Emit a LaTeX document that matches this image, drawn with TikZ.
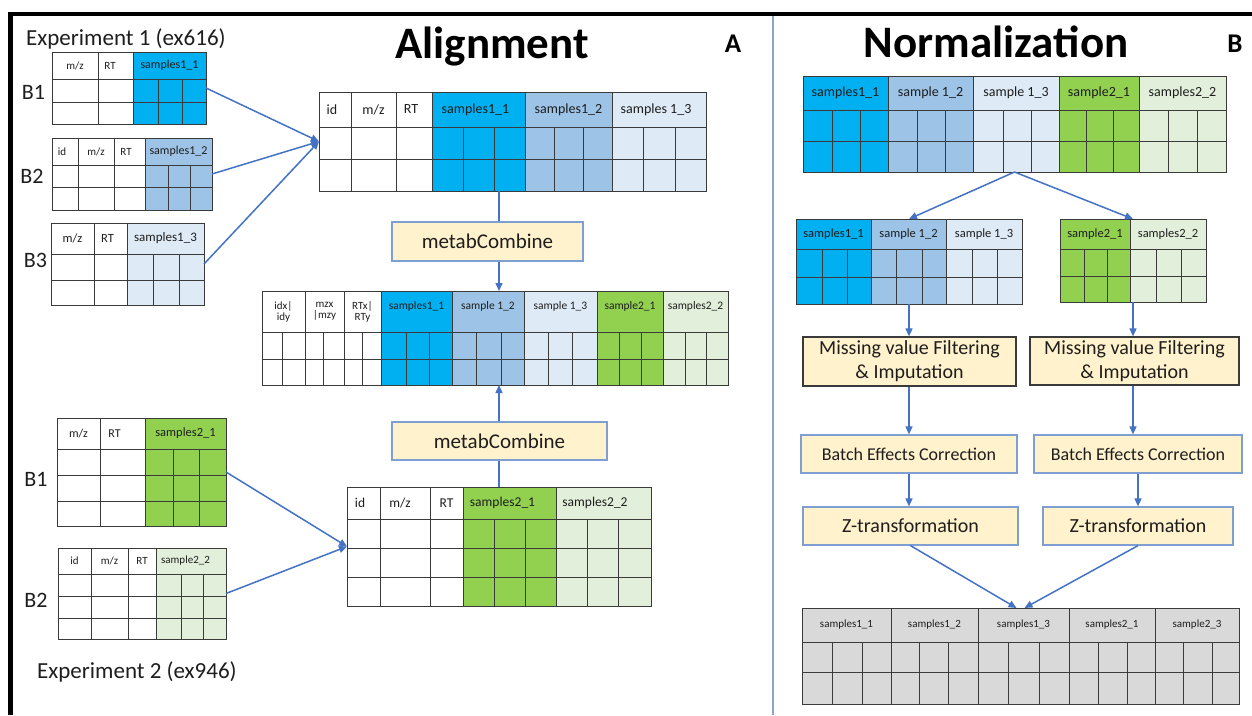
\documentclass[tikz,border=0pt]{standalone}
\usepackage{fontspec}
\setmainfont{Carlito}
\usetikzlibrary{arrows.meta,fit,calc}

\definecolor{sOneA}{HTML}{00B0F0}
\definecolor{sOneB}{HTML}{9DC3E6}
\definecolor{sOneC}{HTML}{DEEBF7}
\definecolor{sTwoA}{HTML}{92D050}
\definecolor{sTwoB}{HTML}{E2EFDA}
\definecolor{allgray}{HTML}{D9D9D9}
\definecolor{boxfill}{HTML}{FFF2CC}
\definecolor{boxline}{HTML}{7F9FD3}
\definecolor{flow}{HTML}{4472C4}
\definecolor{gridc}{HTML}{3A3A3A}
\definecolor{txt}{HTML}{1E1E1E}
\definecolor{divc}{HTML}{8FA3C9}

\newcounter{hlc}
\newcommand\fs[1]{\fontsize{#1}{#1}\selectfont}

% fill of one sample block: x0, top, x1, bottom, colour
\newcommand\fl[5]{\fill[#5] (#1,#2) rectangle (#3,#4);}

% table grid: name, left, top, right, bottom, header bottom,
% row lines, full-height column lines, data-only column lines
\newcommand\tbl[9]{%
  \node[fit={(#2,#3) (#4,#5)}, inner sep=0pt, outer sep=0pt] (#1) {};
  \foreach \ry in {#7} \draw[grid] (#2,\ry) -- (#4,\ry);
  \draw[grid] (#2,#6) -- (#4,#6);
  \foreach \vx in {#8} \draw[grid] (\vx,#3) -- (\vx,#5);
  \foreach \vx in {#9} \draw[grid] (\vx,#6) -- (\vx,#5);
  \draw[grid] (#2,#3) rectangle (#4,#5);
}

% header label centred in a box: x0, x1, y0, y1, size, text
\newcommand\hl[6]{%
  \stepcounter{hlc}%
  \node[hdr, font={\fs{#5}}] (hl\arabic{hlc}) at ({(#1+#2)/2},{(#3+#4)/2}) {#6};
}

\begin{document}
\begin{tikzpicture}[x=1pt,y=-1pt,
  grid/.style={draw=gridc, line width=0.9pt},
  hdr/.style={inner sep=0pt, align=center, text=txt},
  procbox/.style={draw=boxline, fill=boxfill, line width=1.2pt, inner sep=0pt, text=txt, align=center},
  darkbox/.style={procbox, draw=gridc},
  conn/.style={draw=flow, line width=1.5pt, -{Triangle[length=8pt,width=7pt]}},
  plainline/.style={draw=flow, line width=1.5pt},
  batchlabel/.style={font={\fs{22}}, text=txt, inner sep=0pt}]

\fill[white] (0,0) rectangle (1252,715);
\useasboundingbox (0,0) rectangle (1252,715);

% outer frame and panel divider
\draw[line width=4pt, black] (8,14) -- (1252,14);
\draw[line width=4.5pt, black] (10.5,12) -- (10.5,715);
\draw[divc, line width=1.8pt] (773,16) -- (773,715);

% titles
\node[anchor=base, font={\fs{45}\bfseries}, inner sep=0pt] (ttlA) at (492,58) {Alignment};
\node[anchor=base, font={\fs{45}\bfseries}, inner sep=0pt] (ttlB) at (996,57) {Normalization};
\node[font={\fs{27}\bfseries}, inner sep=0pt] (lblA) at (733,44) {A};
\node[font={\fs{27}\bfseries}, inner sep=0pt] (lblB) at (1235,44) {B};

\node[anchor=base west, font={\fs{23}}, inner sep=0pt, text=txt] (exp1) at (26,45) {Experiment 1 (ex616)};
\node[anchor=base west, font={\fs{23}}, inner sep=0pt, text=txt] (exp2) at (37,678) {Experiment 2 (ex946)};

% batch labels
\node[batchlabel] (b11) at (33.5,92) {B1};
\node[batchlabel] (b12) at (32,176.5) {B2};
\node[batchlabel] (b13) at (35.5,260) {B3};
\node[batchlabel] (b21) at (36,479) {B1};
\node[batchlabel] (b22) at (36,600) {B2};

% ---------- experiment 1, batch tables ----------
\fl{133}{52}{206}{124}{sOneA}
\tbl{e1b1}{52}{52}{206}{124}{79}{102}{98,133}{158,182}
\hl{52}{98}{52}{79}{11}{m/z}
\hl{98}{122}{52}{79}{11}{RT}
\hl{133}{206}{52}{79}{12}{samples1\_1}

\fl{145}{138}{212}{210}{sOneB}
\tbl{e1b2}{52}{138}{212}{210}{165}{187}{78,114,145}{168,190}
\hl{52}{72}{138}{165}{11}{id}
\hl{78}{114}{138}{165}{11}{m/z}
\hl{114}{138}{138}{165}{11}{RT}
\hl{145}{212}{138}{165}{12}{samples1\_2}

\fl{127}{223}{204}{305}{sOneC}
\tbl{e1b3}{51}{223}{204}{305}{254}{280}{94,127}{153,179}
\hl{51}{94}{223}{254}{12.5}{m/z}
\hl{94}{121}{223}{254}{12.5}{RT}
\hl{127}{204}{223}{254}{13}{samples1\_3}

% ---------- aligned experiment 1 ----------
\fl{432}{92}{525}{191}{sOneA}
\fl{525}{92}{612}{191}{sOneB}
\fl{612}{92}{706}{191}{sOneC}
\tbl{mainA}{319}{92}{706}{191}{127}{159}{351,396,432,525,612}{463,494,554,583,643,675}
\hl{319}{345}{92}{127}{14}{id}
\hl{351}{396}{92}{127}{14}{m/z}
\hl{396}{426}{92}{127}{14}{RT}
\hl{432}{519}{92}{127}{14}{samples1\_1}
\hl{525}{612}{92}{127}{14}{samples1\_2}
\hl{612}{700}{92}{127}{14}{samples 1\_3}

% ---------- combined table ----------
\fl{381}{291}{452}{385}{sOneA}
\fl{452}{291}{524}{385}{sOneB}
\fl{524}{291}{597}{385}{sOneC}
\fl{597}{291}{663}{385}{sTwoA}
\fl{663}{291}{728}{385}{sTwoB}
\tbl{mid}{262}{291}{728}{385}{332}{359}{305,344,381,452,524,597,663}{282,323,362,406,429,476,501,548,572,619,641,685,706}
\hl{262}{305}{291}{332}{11}{idx|\\idy}
\hl{305}{344}{291}{332}{11}{mzx\\|mzy}
\hl{344}{381}{291}{332}{11}{RTx|\\RTy}
\hl{381}{452}{291}{321}{11.5}{samples1\_1}
\hl{452}{524}{291}{321}{11.5}{sample 1\_2}
\hl{524}{597}{291}{321}{11.5}{sample 1\_3}
\hl{597}{663}{291}{321}{11.5}{sample2\_1}
\hl{663}{728}{291}{321}{11.5}{samples2\_2}

% ---------- experiment 2, batch tables ----------
\fl{145}{418}{226}{526}{sTwoA}
\tbl{e2b1}{57}{418}{226}{526}{449}{475,501}{100,145}{173,199}
\hl{57}{100}{418}{449}{12}{m/z}
\hl{100}{129}{418}{449}{12}{RT}
\hl{145}{226}{418}{449}{12.5}{samples2\_1}

\fl{156}{548}{226}{639}{sTwoB}
\tbl{e2b2}{58}{548}{226}{639}{574}{596,618}{91,128,156}{181,203}
\hl{58}{91}{548}{574}{11}{id}
\hl{91}{128}{548}{574}{11}{m/z}
\hl{128}{156}{548}{574}{11}{RT}
\hl{156}{215}{548}{574}{11}{sample2\_2}

% ---------- aligned experiment 2 ----------
\fl{463}{487}{556}{606}{sTwoA}
\fl{556}{487}{651}{606}{sTwoB}
\tbl{botA}{347}{487}{651}{606}{519}{548,577}{380,430,463,556}{494,525,587,618}
\hl{347}{373}{487}{519}{13.5}{id}
\hl{380}{420}{487}{519}{13.5}{m/z}
\hl{430}{463}{487}{519}{13.5}{RT}
\hl{463}{542}{487}{519}{13.5}{samples2\_1}
\hl{556}{634}{487}{519}{13.5}{samples2\_2}

% ---------- process boxes, alignment ----------
\node[procbox, minimum width=191pt, minimum height=39pt, font={\fs{21}}] (mb1) at (487.5,241.5) {metabCombine};
\node[procbox, minimum width=215pt, minimum height=38pt, font={\fs{21}}] (mb2) at (499.5,441) {metabCombine};

% ---------- normalization tables ----------
\fl{803}{76}{888}{172}{sOneA}
\fl{888}{76}{973}{172}{sOneB}
\fl{973}{76}{1059}{172}{sOneC}
\fl{1059}{76}{1139}{172}{sTwoA}
\fl{1139}{76}{1226}{172}{sTwoB}
\tbl{normT}{803}{76}{1226}{172}{110}{141}{888,973,1059,1139}{832,860,917,945,1003,1031,1086,1113,1168,1197}
\hl{803}{888}{76}{110}{14}{samples1\_1}
\hl{888}{973}{76}{110}{14}{sample 1\_2}
\hl{973}{1059}{76}{110}{14}{sample 1\_3}
\hl{1059}{1139}{76}{110}{14}{sample2\_1}
\hl{1139}{1226}{76}{110}{14}{samples2\_2}

\fl{796}{219}{871}{304}{sOneA}
\fl{871}{219}{946}{304}{sOneB}
\fl{946}{219}{1022}{304}{sOneC}
\tbl{normL}{796}{219}{1022}{304}{249}{277}{871,946}{822,847,896,922,972,997}
\hl{796}{871}{219}{249}{12.5}{samples1\_1}
\hl{871}{946}{219}{249}{12.5}{sample 1\_2}
\hl{946}{1022}{219}{249}{12.5}{sample 1\_3}

\fl{1060}{219}{1130}{302}{sTwoA}
\fl{1130}{219}{1206}{302}{sTwoB}
\tbl{normR}{1060}{219}{1206}{302}{249}{276}{1130}{1084,1107,1156,1181}
\hl{1060}{1130}{219}{249}{12.5}{sample2\_1}
\hl{1130}{1206}{219}{249}{12.5}{samples2\_2}

\fl{802}{608}{1239}{704}{allgray}
\tbl{normF}{802}{608}{1239}{704}{642}{672}{891,978,1069,1155}{832,862,919,948,1008,1039,1098,1127,1183,1212}
\hl{802}{891}{608}{642}{11}{samples1\_1}
\hl{891}{978}{608}{642}{11}{samples1\_2}
\hl{978}{1069}{608}{642}{11}{samples1\_3}
\hl{1069}{1155}{608}{642}{11}{samples2\_1}
\hl{1155}{1239}{608}{642}{11}{sample2\_3}

% ---------- process boxes, normalization ----------
\begin{scope}[every node/.append style={font={\fontsize{20}{24}\selectfont}}]
\node[darkbox, minimum width=213pt, minimum height=49pt] (miss1) at (909.5,361.5) {Missing value Filtering\\\& Imputation};
\node[darkbox, minimum width=209pt, minimum height=48pt] (miss2) at (1134.5,361) {Missing value Filtering\\\& Imputation};
\end{scope}
\node[procbox, minimum width=216pt, minimum height=38pt, font={\fs{18}}] (bat1) at (909,454) {Batch Effects Correction};
\node[procbox, minimum width=208pt, minimum height=38pt, font={\fs{18}}] (bat2) at (1138,454) {Batch Effects Correction};
\node[procbox, minimum width=215pt, minimum height=38pt, font={\fs{20}}] (zt1) at (910.5,526) {Z-transformation};
\node[procbox, minimum width=190pt, minimum height=38pt, font={\fs{20}}] (zt2) at (1138,526) {Z-transformation};

% ---------- connectors, alignment ----------
\coordinate (ax) at (499,0);
\draw[conn] (e1b1.east) -- (mainA.west);
\draw[conn] (e1b2.east) -- (mainA.west);
\draw[conn] (e1b3.east) -- (mainA.west);
\draw[conn] (e2b1.east) -- (botA.west);
\draw[conn] (e2b2.east) -- (botA.west);
\draw[plainline] (mainA.south -| ax) -- (mb1.north -| ax);
\draw[conn] (mb1.south -| ax) -- (mid.north -| ax);
\draw[plainline] (botA.north -| ax) -- (mb2.south -| ax);
\draw[conn] (mb2.north -| ax) -- (mid.south -| ax);

% ---------- connectors, normalization ----------
\draw[conn] (normT.south) -- (normL.north);
\draw[conn] (normT.south) -- (normR.north);
\draw[conn] (normL.south) -- (normL.south |- miss1.north);
\draw[conn] (normR.south) -- (normR.south |- miss2.north);
\draw[conn] (normL.south |- miss1.south) -- (normL.south |- bat1.north);
\draw[conn] (normR.south |- miss2.south) -- (normR.south |- bat2.north);
\draw[conn] (bat1.south) -- (bat1.south |- zt1.north);
\draw[conn] (bat2.south) -- (bat2.south |- zt2.north);
\draw[conn] (zt1.south) -- ([xshift=-4pt]normF.north);
\draw[conn] (zt2.south) -- ([xshift=4pt]normF.north);

\end{tikzpicture}
\end{document}
